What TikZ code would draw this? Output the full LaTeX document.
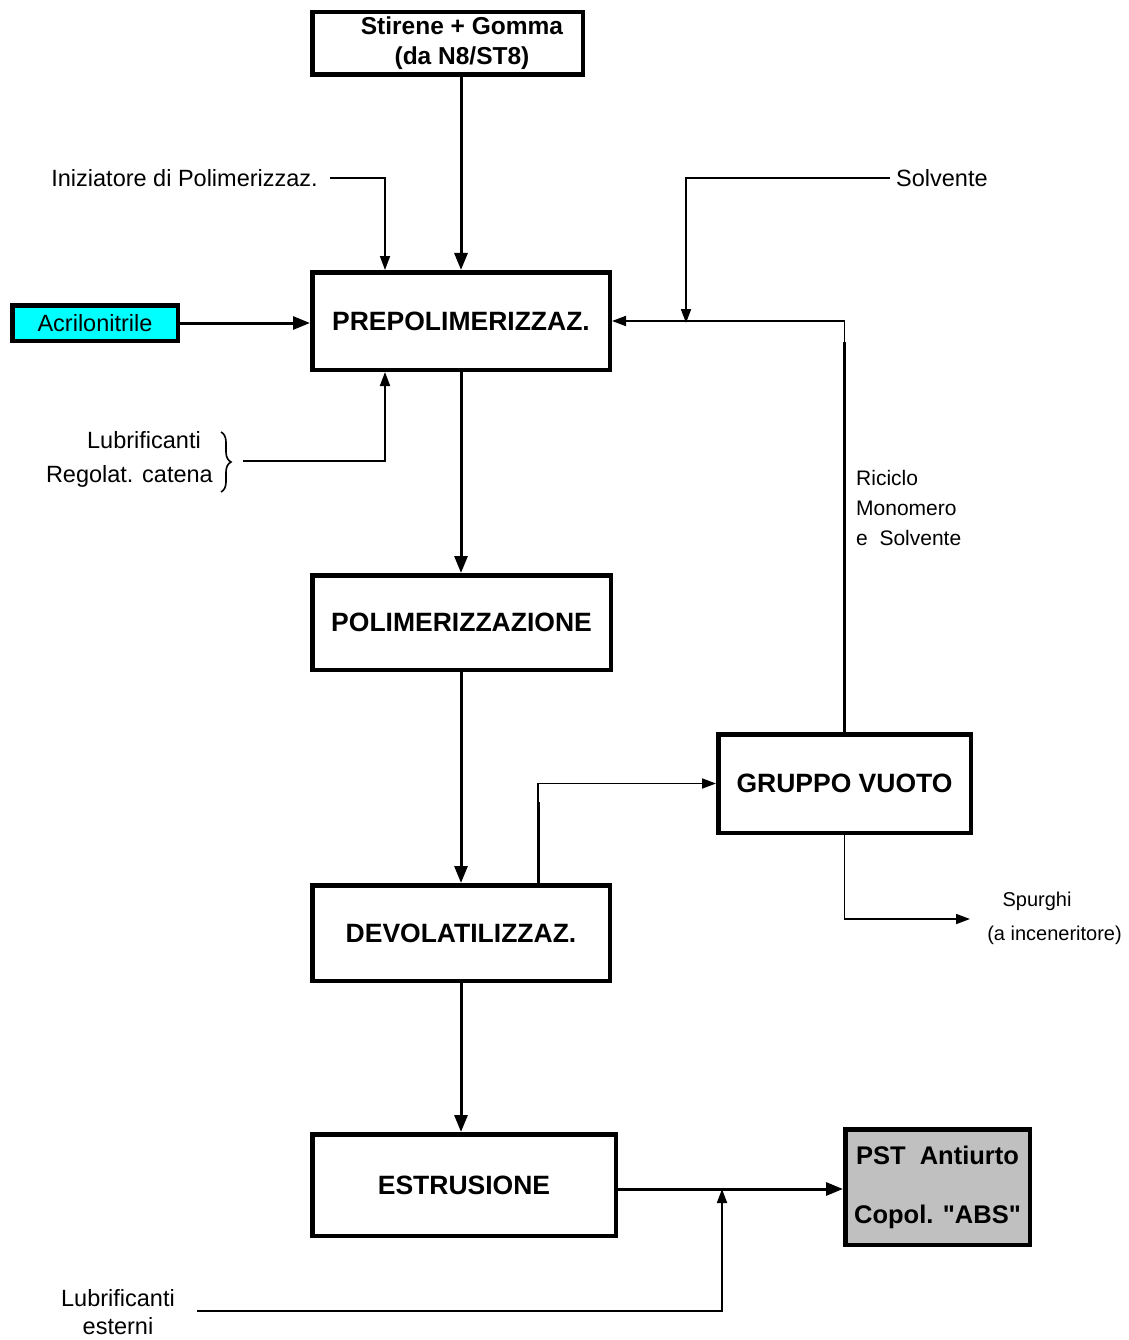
\documentclass[tikz,border=0pt]{standalone}
\usepackage{fontspec}
\setmainfont{Liberation Sans}
\newfontfamily\plainsans{Liberation Sans}
\usetikzlibrary{arrows.meta,decorations.pathreplacing}
\definecolor{cyanfill}{RGB}{0,255,255}
\definecolor{grayfill}{RGB}{192,192,192}
\begin{document}
\begin{tikzpicture}[x=1pt,y=-1pt,
  box/.style={draw,line width=4.5pt,inner sep=0pt,align=center,font=\fontsize{26.5}{30}\selectfont\bfseries},
  lbl/.style={inner sep=0pt,font=\fontsize{23.5}{28}\selectfont},
  thickc/.style={line width=3pt,-{Triangle[length=17pt,width=13pt]}},
  thinc/.style={line width=1.8pt,-{Triangle[length=14pt,width=10pt]}},
  heavy/.style={line width=3pt}]
\useasboundingbox (0,0) rectangle (1128,1340);
% boxes
\node[box,minimum width=270.5,minimum height=62.5] (stir) at (447.5,43.5) {};
\node[inner sep=0pt,align=center,font=\fontsize{24.5}{30}\selectfont\bfseries] (stirt) at (462,43.5) {Stirene + Gomma\\(da N8/ST8)};
\node[box,minimum width=297.5,minimum height=97.5] (prep) at (461,321) {PREPOLIMERIZZAZ.};
\node[box,fill=cyanfill,minimum width=165.5,minimum height=35.5,font=\fontsize{23.5}{28}\selectfont] (acr) at (95,323) {Acrilonitrile};
\node[box,minimum width=298.5,minimum height=94.5] (poli) at (461.5,622.5) {POLIMERIZZAZIONE};
\node[box,minimum width=252.5,minimum height=98.5] (gv) at (844.5,783.5) {GRUPPO VUOTO};
\node[box,minimum width=297.5,minimum height=95.5] (devo) at (461,933) {DEVOLATILIZZAZ.};
\node[box,minimum width=303.5,minimum height=101.5] (estr) at (464,1185) {ESTRUSIONE};
\node[box,fill=grayfill,minimum width=184.5,minimum height=115.5,font=\plainsans\fontsize{25.5}{59}\selectfont\bfseries] (pst) at (937.5,1187) {PST~~Antiurto\\Copol. "ABS"};
% labels
\node[lbl,anchor=east] (iniz) at (318,178) {Iniziatore di Polimerizzaz.};
\node[lbl,anchor=west] (solv) at (896,178) {Solvente};
\node[lbl,anchor=east] (lub1) at (201,440) {Lubrificanti};
\node[lbl,anchor=east] (lub2) at (213,476) {Regolat. catena};
\node[lbl,anchor=west,align=left,font=\fontsize{21}{30}\selectfont] (ric) at (856,508) {Riciclo\\Monomero\\e~~Solvente};
\node[lbl,font=\fontsize{20}{34}\selectfont] (spu1) at (1037,901) {Spurghi};
\node[lbl,anchor=east,font=\fontsize{20}{34}\selectfont] (spu2) at (1122,935) {(a inceneritore)};
\node[lbl,align=center,font=\fontsize{23.5}{28}\selectfont] (lubest) at (118,1312) {Lubrificanti\\esterni};
% helper coordinates
\coordinate (inizA) at (330,178);
\coordinate (inizB) at (385,178);
\coordinate (solvA) at (890,178);
\coordinate (solvB) at (686,178);
\coordinate (solvC) at (686,321);
\coordinate (lubA) at (243,461);
\coordinate (lubB) at (385,461);
\coordinate (devA) at (538,883);
\coordinate (devB) at (538,802);
\coordinate (recB) at (844,342);
\coordinate (gvB) at (844,919);
\coordinate (spuA) at (970,919);
\coordinate (leA) at (197,1311);
\coordinate (leB) at (722,1311);
\coordinate (leC) at (722,1189);
% brace
\draw[line width=1.6pt,decorate,decoration={brace,amplitude=10pt}] (221,432) -- (221,492);
% connectors
\draw[thickc] (stir.south -| prep.north) -- (prep.north);
\draw[thinc] (inizA) -- (inizB) -- (inizB |- prep.north);
\draw[thickc] (acr.east) -- (acr.east -| prep.west);
\draw[thinc] (solvA) -- (solvB) -- ([yshift=-2pt]solvC);
\draw[thinc] (gv.north) -- (gv.north |- prep.east) -- (prep.east);
\draw[heavy] (gv.north) -- (gv.north |- recB);
\draw[thinc] (lubA) -- (lubB) -- (lubB |- prep.south);
\draw[thickc] (prep.south) -- (prep.south |- poli.north);
\draw[thickc] (poli.south -| prep.south) -- (devo.north);
\draw[thinc] (devA) |- (gv.west);
\draw[heavy] (devA) -- (devB);
\draw[thinc] (gv.south) -- (gv.south |- gvB) -- (spuA);
\draw[thickc] (devo.south) -- (devo.south |- estr.north);
\draw[thickc] (estr.east |- leC) -- (pst.west |- leC);
\draw[thinc] (leA) -- (leB) -- (leC);
\end{tikzpicture}
\end{document}
